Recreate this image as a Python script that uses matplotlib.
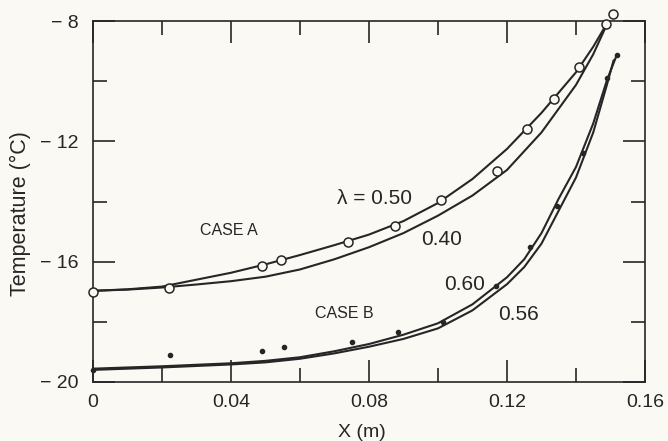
"""Temperature profiles for case A and case B, redrawn as out.png."""

import matplotlib

matplotlib.use("Agg")
import matplotlib.pyplot as plt
from matplotlib.ticker import FixedLocator, FixedFormatter

plt.rcParams["font.family"] = ["Liberation Sans", "DejaVu Sans"]

INK = "#262626"
PAPER = "#faf9f4"

# case A: measured points (open circles) and two model curves
a_pts_x = [0.0, 0.022, 0.049, 0.0545, 0.0739, 0.0875, 0.101, 0.117, 0.1258, 0.1336, 0.141, 0.1487, 0.1507]
a_pts_y = [-17.0, -16.87, -16.15, -15.95, -15.35, -14.82, -13.96, -13.0, -11.58, -10.58, -9.52, -8.1, -7.77]

a50_x = [0.0, 0.01, 0.02, 0.03, 0.04, 0.05, 0.06, 0.07, 0.08, 0.09, 0.10, 0.11, 0.12, 0.13, 0.14, 0.145, 0.1495]
a50_y = [-16.97, -16.92, -16.83, -16.6, -16.37, -16.09, -15.78, -15.45, -15.1, -14.65, -14.05, -13.25, -12.25,
         -11.05, -9.7, -8.85, -7.97]

a40_x = [0.0, 0.01, 0.02, 0.03, 0.04, 0.05, 0.06, 0.07, 0.08, 0.09, 0.10, 0.11, 0.12, 0.13, 0.14, 0.145, 0.1495]
a40_y = [-16.97, -16.93, -16.86, -16.76, -16.65, -16.5, -16.26, -15.92, -15.52, -15.05, -14.47, -13.8, -12.95,
         -11.7, -10.12, -9.1, -7.97]

# case B: measured points (dots) and two model curves
b_pts_x = [0.0, 0.0223, 0.049, 0.0553, 0.075, 0.0884, 0.1014, 0.1168, 0.1267, 0.1345, 0.142, 0.149, 0.1519]
b_pts_y = [-19.6, -19.1, -18.96, -18.83, -18.66, -18.33, -18.0, -16.8, -15.52, -14.16, -12.37, -9.89, -9.13]

b60_x = [0.0, 0.02, 0.04, 0.05, 0.06, 0.07, 0.08, 0.09, 0.10, 0.11, 0.12, 0.125, 0.13, 0.135, 0.14, 0.145,
         0.149, 0.1519]
b60_y = [-19.56, -19.48, -19.38, -19.3, -19.18, -18.98, -18.74, -18.43, -18.05, -17.42, -16.52, -15.92, -15.05,
         -13.9, -12.85, -11.4, -9.95, -9.1]

b56_x = [0.0, 0.02, 0.04, 0.05, 0.06, 0.07, 0.08, 0.09, 0.10, 0.11, 0.12, 0.125, 0.13, 0.135, 0.14, 0.145,
         0.149, 0.1509]
b56_y = [-19.6, -19.52, -19.42, -19.35, -19.23, -19.05, -18.83, -18.57, -18.22, -17.62, -16.75, -16.18, -15.4,
         -14.3, -13.2, -11.7, -10.1, -9.3]

x_major = [0.0, 0.04, 0.08, 0.12, 0.16]
x_major_labels = ["0", "0.04", "0.08", "0.12", "0.16"]
x_minor = [0.02, 0.06, 0.10, 0.14]
y_major = [-20, -16, -12, -8]
y_major_labels = ["\u2212 20", "\u2212 16", "\u2212 12", "\u2212 8"]
y_minor = [-18, -14, -10]

fig = plt.figure(figsize=(6.68, 4.41), dpi=100, facecolor=PAPER)
ax = fig.add_axes([0.139, 0.134, 0.8266, 0.818], facecolor=PAPER)

line_kw = dict(color=INK, linewidth=1.5, solid_capstyle="round", solid_joinstyle="round")
ax.plot(a50_x, a50_y, **line_kw)
ax.plot(a40_x, a40_y, **line_kw)
ax.plot(b60_x, b60_y, **line_kw)
ax.plot(b56_x, b56_y, **line_kw)

ax.plot(a_pts_x, a_pts_y, linestyle="none", marker="o", markersize=6.5,
        markerfacecolor=PAPER, markeredgecolor=INK, markeredgewidth=1.1,
        clip_on=False, zorder=3)
ax.plot(b_pts_x, b_pts_y, linestyle="none", marker="o", markersize=3,
        color=INK, clip_on=False, zorder=3)

ax.text(0.0817, -13.9, "\u03bb = 0.50", fontsize=15, color=INK, ha="center", va="center")
ax.text(0.1009, -15.25, "0.40", fontsize=15, color=INK, ha="center", va="center")
ax.text(0.1078, -16.77, "0.60", fontsize=15, color=INK, ha="center", va="center")
ax.text(0.1232, -17.77, "0.56", fontsize=15, color=INK, ha="center", va="center")
ax.text(0.0394, -14.95, "CASE A", fontsize=11.5, color=INK, ha="center", va="center")
ax.text(0.073, -17.74, "CASE B", fontsize=11.5, color=INK, ha="center", va="center")

ax.set_xlim(0, 0.16)
ax.set_ylim(-20, -8)

ax.xaxis.set_major_locator(FixedLocator(x_major))
ax.xaxis.set_major_formatter(FixedFormatter(x_major_labels))
ax.xaxis.set_minor_locator(FixedLocator(x_minor))
ax.yaxis.set_major_locator(FixedLocator(y_major))
ax.yaxis.set_major_formatter(FixedFormatter(y_major_labels))
ax.yaxis.set_minor_locator(FixedLocator(y_minor))

ax.tick_params(which="both", direction="in", top=True, right=True, color=INK,
               width=1.2, labelcolor=INK, labelsize=14)
ax.tick_params(which="major", length=16)
ax.tick_params(which="minor", length=10)
ax.tick_params(axis="x", pad=9)
ax.tick_params(axis="y", pad=10)
for spine in ax.spines.values():
    spine.set_linewidth(1.2)
    spine.set_color(INK)

ax.set_xlabel("X (m)", fontsize=14, color=INK)
ax.set_ylabel("Temperature (\u00b0C)", fontsize=15.5, color=INK)
ax.xaxis.set_label_coords(0.487, -0.117)
ax.yaxis.set_label_coords(-0.112, 0.467)

fig.savefig("out.png", dpi=100, facecolor=PAPER)
